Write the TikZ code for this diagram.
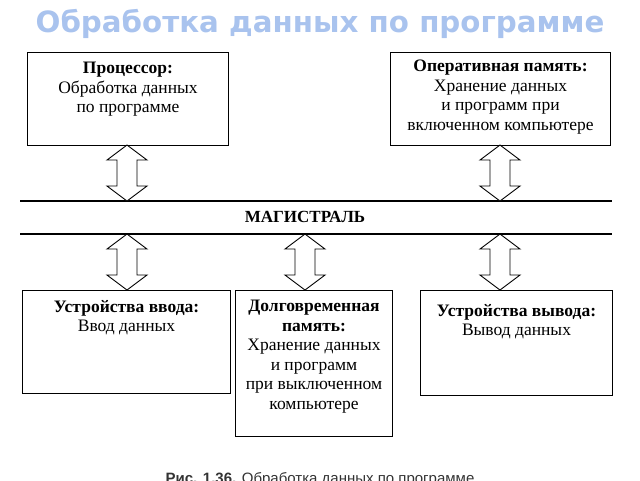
\documentclass[tikz,border=0pt]{standalone}
\usepackage{fontspec}
\setmainfont{Liberation Serif}
\setsansfont{Liberation Sans}
\newfontfamily\titlefont{DejaVu Sans}
\usetikzlibrary{positioning}
\definecolor{titleblue}{HTML}{A9C3EE}
\tikzset{
  unit/.style={draw,line width=1pt,anchor=north west,inner sep=0pt},
  label/.style={align=center,inner sep=0pt,font=\fontsize{17.5}{19.5}\selectfont},
  busline/.style={line width=1.2pt},
}
% double block arrow between two points on one vertical line
\newcommand{\linkarrow}[3]{%
  \draw[line width=0.9pt,fill=white] (#1,#2) -- ({#1+20},{#2+15}) -- ({#1+10},{#2+15}) -- ({#1+10},{#3-15})
    -- ({#1+20},{#3-15}) -- (#1,#3) -- ({#1-20},{#3-15}) -- ({#1-10},{#3-15}) -- ({#1-10},{#2+15})
    -- ({#1-20},{#2+15}) -- cycle;}

\begin{document}
\begin{tikzpicture}[x=1pt,y=-1pt]
\useasboundingbox (0,0) rectangle (640,480);

\node[font=\titlefont\bfseries\fontsize{29.3}{32}\selectfont,text=titleblue] (title) at (320,24) {Обработка данных по программе};

\node[unit,minimum width=201,minimum height=93] (cpu) at (27,52) {};
\node[label,below=10pt of cpu.north] {\textbf{Процессор:}\\Обработка данных\\по программе};

\node[unit,minimum width=220,minimum height=93] (ram) at (390,52) {};
\node[label,below=8pt of ram.north] {\textbf{Оперативная память:}\\Хранение данных\\и программ при\\включенном компьютере};

\draw[busline] (20,201) coordinate (bustop) -- (612,201);
\draw[busline] (20,234) coordinate (busbot) -- (612,234);
\node[font=\bfseries\fontsize{17}{18}\selectfont] (bus) at (305,217) {МАГИСТРАЛЬ};

\node[unit,minimum width=208,minimum height=103] (inp) at (22,290) {};
\node[label,below=10pt of inp.north] {\textbf{Устройства ввода:}\\Ввод данных};

\node[unit,minimum width=157,minimum height=146] (rom) at (235,290) {};
\node[label,below=10pt of rom.north] {\textbf{Долговременная}\\\textbf{память:}\\Хранение данных\\и программ\\при выключенном\\компьютере};

\node[unit,minimum width=192,minimum height=105] (outp) at (420,290) {};
\node[label,below=14pt of outp.north] {\textbf{Устройства вывода:}\\Вывод данных};

\linkarrow{127}{145}{201}
\linkarrow{500}{145}{201}
\linkarrow{127}{234}{290}
\linkarrow{305}{234}{290}
\linkarrow{500}{234}{290}

\node[font=\sffamily\fontsize{15}{16}\selectfont,text=black!80] (caption) at (320,480) {\textbf{Рис. 1.36.} Обработка данных по программе};
\end{tikzpicture}
\end{document}
